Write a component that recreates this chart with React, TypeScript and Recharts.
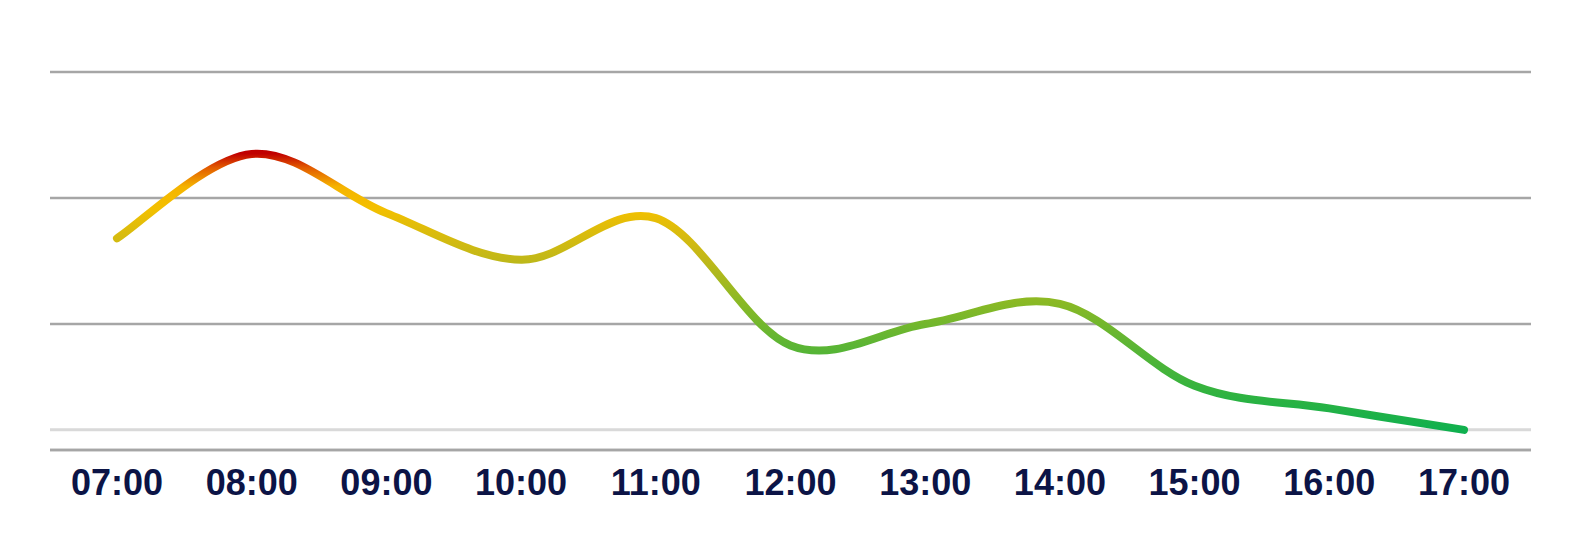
import {
  CartesianGrid,
  Line,
  LineChart,
  ReferenceLine,
  XAxis,
  YAxis,
} from "recharts";

const times = [
  "07:00",
  "08:00",
  "09:00",
  "10:00",
  "11:00",
  "12:00",
  "13:00",
  "14:00",
  "15:00",
  "16:00",
  "17:00",
];
const values = [16.8, 23.5, 18.8, 15.1, 18.4, 8.3, 10.0, 11.6, 5.1, 3.3, 1.6];
const yTicks = [0, 10, 20, 30];
const baseline = 1.6;

const data = times.map((t, i) => ({ time: t, value: values[i] }));

// spreadsheet-style smoothing (Catmull-Rom through every point)
function smoothCurve(context: any) {
  let pts: [number, number][] = [];
  return {
    areaStart() {},
    areaEnd() {},
    lineStart() {
      pts = [];
    },
    point(x: number, y: number) {
      pts.push([+x, +y]);
    },
    lineEnd() {
      if (!pts.length) return;
      context.moveTo(pts[0][0], pts[0][1]);
      for (let i = 0; i < pts.length - 1; i++) {
        const p0 = pts[i - 1] || pts[i];
        const p1 = pts[i];
        const p2 = pts[i + 1];
        const p3 = pts[i + 2] || p2;
        context.bezierCurveTo(
          p1[0] + (p2[0] - p0[0]) / 6,
          p1[1] + (p2[1] - p0[1]) / 6,
          p2[0] - (p3[0] - p1[0]) / 6,
          p2[1] - (p3[1] - p1[1]) / 6,
          p2[0],
          p2[1]
        );
      }
    },
  };
}

export default function App() {
  return (
    <div style={{ width: 1581, height: 534, background: "#fff" }}>
      <style>{"body{margin:0}"}</style>
      <LineChart
        width={1581}
        height={534}
        data={data}
        margin={{ top: 72, right: 50, left: 50, bottom: 0 }}
      >
        <defs>
          <linearGradient id="lineGrad" x1="0" y1="0" x2="0" y2="1">
            <stop offset="0%" stopColor="#c00000" />
            <stop offset="5%" stopColor="#e25a00" />
            <stop offset="12%" stopColor="#f5b400" />
            <stop offset="20%" stopColor="#f3c000" />
            <stop offset="28%" stopColor="#dcbc0c" />
            <stop offset="38%" stopColor="#c2b818" />
            <stop offset="53%" stopColor="#8cb924" />
            <stop offset="69%" stopColor="#5db534" />
            <stop offset="85%" stopColor="#35b33e" />
            <stop offset="100%" stopColor="#10b04f" />
          </linearGradient>
        </defs>
        <CartesianGrid
          vertical={false}
          stroke="#a6a6a6"
          strokeWidth={2.5}
        />
        <XAxis
          dataKey="time"
          height={84}
          padding={{ left: 67, right: 67 }}
          axisLine={{ stroke: "#a6a6a6", strokeWidth: 2.5 }}
          tickLine={false}
          tickMargin={13}
          interval={0}
          tick={{
            fill: "#0c1446",
            fontSize: 36,
            fontWeight: 700,
            fontFamily: "Liberation Sans, Arial, sans-serif",
          }}
        />
        <YAxis hide domain={[0, 30]} ticks={yTicks} />
        <ReferenceLine y={baseline} stroke="#d9d9d9" strokeWidth={3} />
        <Line
          type={smoothCurve as any}
          dataKey="value"
          stroke="url(#lineGrad)"
          strokeWidth={8}
          strokeLinecap="round"
          dot={false}
          activeDot={false}
          isAnimationActive={false}
        />
      </LineChart>
    </div>
  );
}
